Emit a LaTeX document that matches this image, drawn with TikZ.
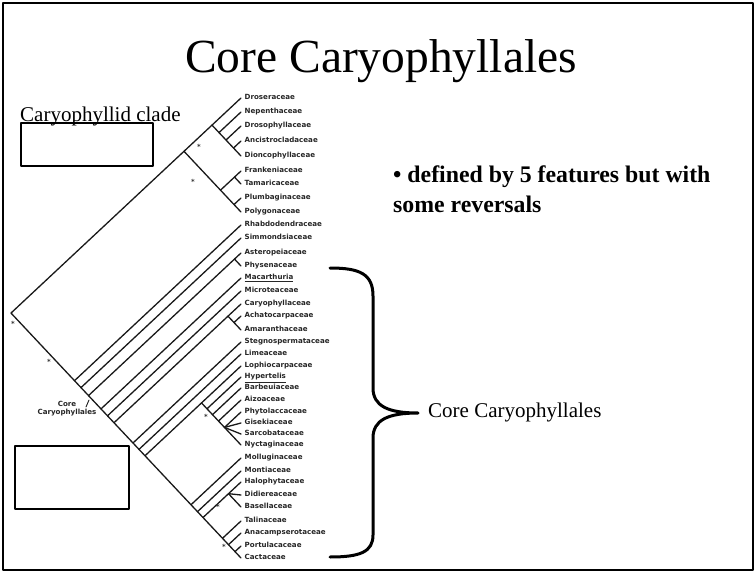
\documentclass[tikz,border=0pt]{standalone}
\usepackage{fontspec}
\setmainfont{Liberation Serif}
\newfontfamily\taxfont{DejaVu Sans}
\usetikzlibrary{positioning}

% clade node from its top and bottom tip
\newcommand{\clade}[3]{\coordinate (#1) at ({241-(#3-#2)/2},{#2+0.935*(#3-#2)/2});}

\begin{document}
\begin{tikzpicture}[x=1pt, y=-1pt, line cap=round, line join=round]
  % Define styles
  \tikzset{
    branch/.style={draw=black!90, line width=1.3pt},
    taxon/.style={font=\taxfont\bfseries\fontsize{7.1}{8}\selectfont, text=black!85, inner sep=0pt, text height=5.3pt, text depth=1.4pt},
    supmark/.style={font=\taxfont\bfseries\fontsize{7}{7}\selectfont, text=black!80, inner sep=0pt},
    titletext/.style={font=\fontsize{47.5}{50}\selectfont, inner sep=0pt},
    bigtext/.style={font=\fontsize{21}{26}\selectfont, inner sep=0pt},
    bullettext/.style={font=\bfseries\fontsize{23.8}{30}\selectfont, inner sep=0pt, align=left},
    emptybox/.style={draw, line width=2pt},
  }
  \useasboundingbox (0,0) rectangle (756,573);
  \draw[line width=2.5pt] (3,3) rectangle (753,570);

  % Title and texts
  \node[titletext, anchor=base] (title) at (381,72) {Core Caryophyllales};
  \node[bigtext, anchor=base west] (cladelab) at (20,121) {Caryophyllid clade};
  \node[bullettext, anchor=north west] (bullet) at (393,166) {• defined by 5 features but with\\some reversals};
  \node[bigtext, anchor=west] (corecary) at (428,412) {Core Caryophyllales};

  % Empty boxes
  \draw[emptybox] (21,123) rectangle (153,166);
  \draw[emptybox] (15,446) rectangle (129,509);

  % Tips
  \foreach \y/\n/\lab in {98/droser/Droseraceae, 112/nepenth/Nepenthaceae, 126/drosoph/Drosophyllaceae,
      141/ancistr/Ancistrocladaceae, 156/dioncop/Dioncophyllaceae, 171/franken/Frankeniaceae,
      184/tamaric/Tamaricaceae, 198/plumbag/Plumbaginaceae, 212/polygon/Polygonaceae,
      225/rhabdo/Rhabdodendraceae, 238/simmond/Simmondsiaceae, 253/asterop/Asteropeiaceae,
      266/physen/Physenaceae, 278/macarth/{\underline{Macarthuria}}, 291/microt/Microteaceae,
      304/caryoph/Caryophyllaceae, 316/achato/Achatocarpaceae, 330/amaranth/Amaranthaceae,
      342/stegno/Stegnospermataceae, 354/lime/Limeaceae, 366/lophio/Lophiocarpaceae,
      377/hypert/{\underline{Hypertelis}}, 388/barbeu/Barbeuiaceae, 400/aizo/Aizoaceae,
      412/phytol/Phytolaccaceae, 423/gisek/Gisekiaceae, 434/sarcob/Sarcobataceae,
      445/nyctag/Nyctaginaceae, 458/mollug/Molluginaceae, 471/monti/Montiaceae,
      482/halophyt/Halophytaceae, 495/didier/Didiereaceae, 507/basell/Basellaceae,
      521/talin/Talinaceae, 533/anacamp/Anacampserotaceae, 546/portul/Portulacaceae,
      558/cactac/Cactaceae}{
    \coordinate (\n) at (241,\y);
    \node[taxon, right=3.5pt of \n] (\n-lab) {\lab};
  }

  % Clades
  \clade{root}{98}{558}
  \clade{noncore}{98}{212}
  \clade{drosgrp}{98}{156}
  \clade{nepgrp}{112}{156}
  \clade{drsphgrp}{126}{156}
  \clade{ancgrp}{141}{156}
  \clade{frankpoly}{171}{212}
  \clade{franktam}{171}{184}
  \clade{plumbpoly}{198}{212}
  \clade{core}{225}{558}
  \clade{c2}{238}{558}
  \clade{c3}{253}{558}
  \clade{asterphys}{253}{266}
  \clade{c4}{278}{558}
  \clade{c5}{291}{558}
  \clade{c6}{304}{558}
  \clade{carygrp}{304}{330}
  \clade{achamar}{316}{330}
  \clade{c7}{342}{558}
  \clade{c8}{354}{558}
  \clade{c9}{366}{558}
  \clade{phytgrp}{366}{445}
  \clade{p2}{377}{445}
  \clade{p3}{388}{445}
  \clade{p4}{400}{445}
  \clade{phytfan}{412}{445}
  \clade{c10}{458}{558}
  \clade{c11}{471}{558}
  \clade{c12}{482}{558}
  \clade{halofan}{482}{507}
  \clade{talgrp}{521}{558}
  \clade{t2}{533}{558}
  \clade{portcact}{546}{558}

  % Draw branches
  \foreach \a/\b in {root/noncore, root/core,
      noncore/drosgrp, noncore/frankpoly, drosgrp/droser, drosgrp/nepgrp,
      nepgrp/nepenth, nepgrp/drsphgrp, drsphgrp/drosoph, drsphgrp/ancgrp,
      ancgrp/ancistr, ancgrp/dioncop, frankpoly/franktam, frankpoly/plumbpoly,
      franktam/franken, franktam/tamaric, plumbpoly/plumbag, plumbpoly/polygon,
      core/rhabdo, core/c2, c2/simmond, c2/c3, c3/asterphys, c3/c4,
      asterphys/asterop, asterphys/physen, c4/macarth, c4/c5, c5/microt, c5/c6,
      c6/carygrp, c6/c7, carygrp/caryoph, carygrp/achamar, achamar/achato, achamar/amaranth,
      c7/stegno, c7/c8, c8/lime, c8/c9, c9/phytgrp, c9/c10,
      phytgrp/lophio, phytgrp/p2, p2/hypert, p2/p3, p3/barbeu, p3/p4, p4/aizo, p4/phytfan,
      phytfan/phytol, phytfan/gisek, phytfan/sarcob, phytfan/nyctag,
      c10/mollug, c10/c11, c11/monti, c11/c12, c12/halofan, c12/talgrp,
      halofan/halophyt, halofan/didier, halofan/basell,
      talgrp/talin, talgrp/t2, t2/anacamp, t2/portcact, portcact/portul, portcact/cactac}
    \draw[branch] (\a) -- (\b);

  % Support marks
  \foreach \p [count=\i] in {(199,147),(193,182),(13,324),(49,362),(206,417),(218,507),(224,547)}
    \node[supmark] (s\i) at \p {*};

  % Core label
  \node[taxon, align=center, text height=, text depth=] (corelab) at (67,409) {Core\\Caryophyllales};
  \coordinate (tick) at (86,407);
  \draw[branch, line width=0.9pt] (tick) -- ++(3,-7);

  % Brace
  \draw[line width=3pt] (330,268) .. controls (360,268) and (373,274) .. (373,296)
    -- (373,388) .. controls (373,406) and (388,413) .. (418,413)
    .. controls (388,413) and (373,420) .. (373,438)
    -- (373,535) .. controls (373,552) and (360,557) .. (330,557);
\end{tikzpicture}
\end{document}
